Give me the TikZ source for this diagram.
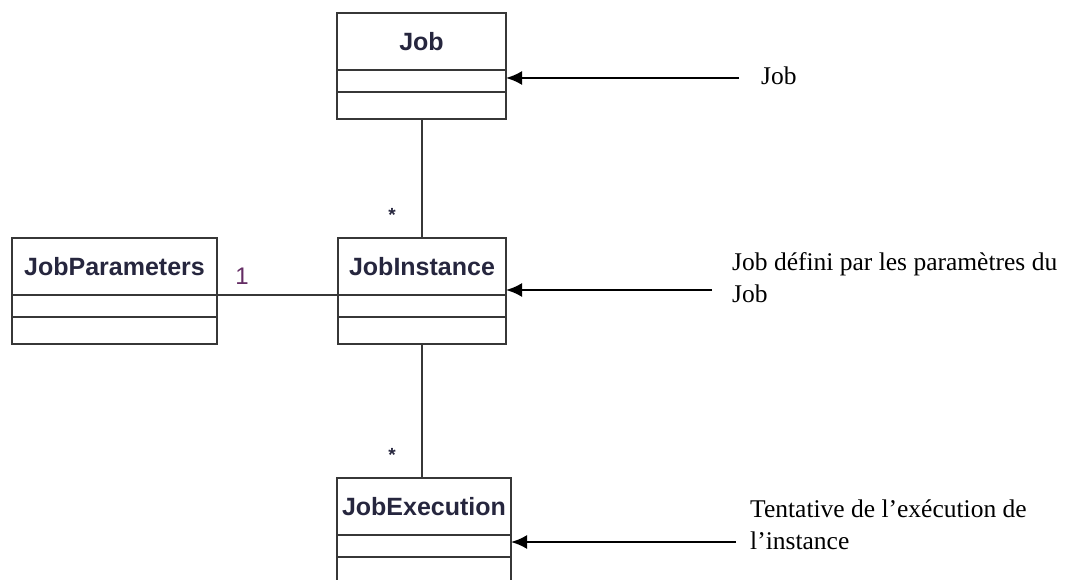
\documentclass[tikz,border=0pt]{standalone}
\usepackage{fontspec}
\setmainfont{Liberation Serif}
\newfontfamily\umlfont{Liberation Sans}
\usepackage{xcolor}
\usetikzlibrary{arrows.meta, positioning}
\definecolor{umlline}{RGB}{55,55,55}
\definecolor{umltext}{RGB}{38,38,62}
\definecolor{umlmult}{RGB}{100,45,100}

\begin{document}
\begin{tikzpicture}[x=1pt, y=-1pt, >={Latex[length=16pt, width=14pt]}, node distance = 0pt]
		\tikzstyle{classname} = [draw=umlline, line width=2pt, inner sep=0pt, outer sep=0pt, minimum height=57pt, text=umltext, font=\umlfont\bfseries\fontsize{25}{30}\selectfont]
		\tikzstyle{compart} = [draw=umlline, line width=2pt, inner sep=0pt, outer sep=0pt]
		\tikzstyle{mult} = [inner sep=0pt, text=umlmult, font=\umlfont\fontsize{24}{28}\selectfont]
		\tikzstyle{star} = [inner sep=0pt, anchor=north, text=umltext, font=\umlfont\bfseries\fontsize{19}{22}\selectfont]
		\tikzstyle{note} = [inner sep=0pt, align=left, anchor=base west, font=\fontsize{25.5}{32}\selectfont]
		\tikzstyle{link} = [draw=umlline, line width=2pt]
		\tikzstyle{pointer} = [->, line width=2.2pt]
		
		\useasboundingbox (0, 0) rectangle (1082, 580);
		
		% classes
		\node[classname, minimum width=169pt] 	at (421.5, 41.5) 	(job) 	{Job};
		\node[compart, minimum width=169pt, minimum height=22pt, below=of job] 	(jobattr) 	{};
		\node[compart, minimum width=169pt, minimum height=27pt, below=of jobattr] 	(jobops) 	{};
		
		\node[classname, minimum width=205pt] 	at (114.5, 266.5) 	(jp) 	{JobParameters};
		\node[compart, minimum width=205pt, minimum height=22pt, below=of jp] 	(jpattr) 	{};
		\node[compart, minimum width=205pt, minimum height=27pt, below=of jpattr] 	(jpops) 	{};
		
		\node[classname, minimum width=168pt] 	at (422, 266.5) 	(ji) 	{JobInstance};
		\node[compart, minimum width=168pt, minimum height=22pt, below=of ji] 	(jiattr) 	{};
		\node[compart, minimum width=168pt, minimum height=27pt, below=of jiattr] 	(jiops) 	{};
		
		\node[classname, minimum width=174pt] 	at (424, 506.5) 	(je) 	{JobExecution};
		\node[compart, minimum width=174pt, minimum height=22pt, below=of je] 	(jeattr) 	{};
		\node[compart, minimum width=174pt, minimum height=27pt, below=of jeattr] 	(jeops) 	{};
		
		% multiplicities
		\node[mult] 	at (242, 276) 	(m1) 	{1};
		\node[star] 	at (392, 208) 	(m2) 	{*};
		\node[star] 	at (392, 448) 	(m3) 	{*};
		
		% associations
		\draw[link] (jobops.south) -- (jobops.south |- ji.north);
		\draw[link] (jp.south east) -- (ji.south west);
		\draw[link] (jiops.south) -- (jiops.south |- je.north);
		
		% notes (base = last line)
		\node[note] 	at (761, 85) 	(n1) 	{Job};
		\node[note] 	at (732, 302) 	(n2) 	{Job défini par les paramètres du\\Job};
		\node[note] 	at (750, 549) 	(n3) 	{Tentative de l’exécution de\\l’instance};
		
		\coordinate (t1) at (739, 78);
		\coordinate (t2) at (712, 290);
		\coordinate (t3) at (736, 542);
		
		\draw[pointer] (t1) -- (t1 -| job.east);
		\draw[pointer] (t2) -- (t2 -| ji.east);
		\draw[pointer] (t3) -- (t3 -| je.east);
\end{tikzpicture}
\end{document}
